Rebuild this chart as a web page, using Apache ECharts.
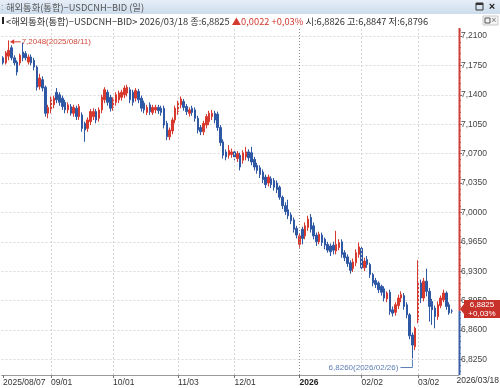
<!DOCTYPE html>
<html><head><meta charset="utf-8">
<script src="https://cdn.jsdelivr.net/npm/echarts@6/dist/echarts.min.js"></script>
<style>html,body{margin:0;padding:0;background:#fff;}#c{width:500px;height:388px;}</style>
</head><body><div id="c"></div>
<script>
// ---------------- data ----------------
const firstDay = '2025/08/07';
const lastDay = '2026/03/18';
const opens = [7.184,7.178,7.186,7.196,7.184,7.179,7.178,7.191,7.189,7.179,7.185,7.181,7.173,7.150,7.158,7.149,7.118,7.122,7.128,7.143,
7.140,7.136,7.131,7.122,7.126,7.118,7.124,7.114,7.116,7.106,7.100,7.108,7.114,7.120,7.112,7.122,7.134,7.143,7.137,7.125,
7.131,7.134,7.137,7.140,7.142,7.146,7.143,7.136,7.144,7.136,7.130,7.119,7.128,7.119,7.122,7.125,7.124,7.124,7.106,7.090,
7.097,7.110,7.120,7.128,7.132,7.126,7.118,7.124,7.122,7.112,7.101,7.096,7.104,7.108,7.114,7.118,7.117,7.101,7.084,7.072,
7.068,7.069,7.072,7.064,7.068,7.062,7.066,7.072,7.071,7.063,7.056,7.053,7.048,7.042,7.035,7.040,7.038,7.035,7.030,7.018,
7.008,7.003,6.997,6.991,6.981,6.962,6.980,6.972,6.982,6.994,6.984,6.973,6.965,6.973,6.968,6.962,6.960,6.961,6.954,6.958,
6.965,6.952,6.947,6.940,6.933,6.940,6.950,6.957,6.934,6.944,6.938,6.926,6.919,6.916,6.912,6.909,6.897,6.905,6.884,6.881,
6.889,6.898,6.901,6.890,6.878,6.854,6.840,6.872,6.916,6.898,6.918,6.906,6.894,6.886,6.876,6.889,6.896,6.904,6.890,6.8826];
const closes = [7.178,7.190,7.193,7.184,7.178,7.167,7.187,7.184,7.184,7.185,7.178,7.173,7.149,7.160,7.148,7.118,7.125,7.134,7.136,7.134,
7.131,7.126,7.122,7.128,7.118,7.125,7.114,7.126,7.100,7.098,7.110,7.120,7.120,7.110,7.122,7.137,7.146,7.131,7.124,7.134,
7.140,7.142,7.143,7.148,7.149,7.134,7.131,7.145,7.134,7.124,7.122,7.125,7.120,7.125,7.125,7.121,7.119,7.104,7.090,7.098,
7.110,7.124,7.130,7.135,7.125,7.120,7.122,7.119,7.112,7.098,7.096,7.106,7.114,7.118,7.118,7.110,7.101,7.083,7.068,7.066,
7.074,7.072,7.066,7.070,7.054,7.071,7.072,7.065,7.060,7.054,7.050,7.045,7.039,7.033,7.042,7.033,7.030,7.027,7.018,7.008,
7.001,6.996,6.990,6.980,6.973,6.972,6.969,6.984,6.992,6.980,6.972,6.965,6.974,6.964,6.961,6.955,6.953,6.955,6.962,6.964,
6.950,6.946,6.939,6.931,6.941,6.952,6.959,6.934,6.942,6.938,6.926,6.916,6.914,6.908,6.905,6.898,6.904,6.882,6.880,6.890,
6.898,6.902,6.888,6.878,6.853,6.842,6.862,6.916,6.898,6.918,6.906,6.888,6.884,6.876,6.890,6.898,6.904,6.888,6.8803,6.8825];
const lows = [7.176,7.176,7.181,7.181,7.175,7.163,7.175,7.180,7.181,7.176,7.175,7.169,7.145,7.146,7.144,7.114,7.112,7.118,7.124,7.130,
7.127,7.122,7.118,7.118,7.115,7.114,7.110,7.110,7.096,7.084,7.096,7.104,7.110,7.106,7.108,7.118,7.130,7.127,7.120,7.121,
7.127,7.130,7.133,7.136,7.138,7.130,7.127,7.132,7.130,7.120,7.118,7.116,7.116,7.116,7.118,7.117,7.115,7.100,7.086,7.086,
7.093,7.106,7.116,7.124,7.121,7.116,7.114,7.115,7.108,7.094,7.092,7.092,7.100,7.104,7.110,7.106,7.097,7.079,7.064,7.062,
7.064,7.065,7.062,7.060,7.050,7.058,7.062,7.061,7.056,7.050,7.046,7.041,7.035,7.029,7.031,7.029,7.026,7.023,7.015,7.004,
6.997,6.992,6.986,6.976,6.969,6.958,6.962,6.968,6.978,6.976,6.968,6.960,6.962,6.960,6.956,6.952,6.948,6.950,6.950,6.955,
6.946,6.942,6.935,6.927,6.929,6.936,6.946,6.930,6.930,6.934,6.922,6.912,6.910,6.904,6.901,6.894,6.893,6.878,6.876,6.877,
6.885,6.893,6.884,6.874,6.849,6.826,6.836,6.868,6.892,6.894,6.900,6.870,6.866,6.862,6.872,6.886,6.893,6.884,6.878,6.8796];
const highs = [7.186,7.192,7.2048,7.199,7.187,7.181,7.189,7.202,7.192,7.188,7.188,7.184,7.175,7.165,7.162,7.151,7.128,7.138,7.139,7.148,
7.143,7.139,7.134,7.131,7.129,7.128,7.127,7.129,7.119,7.108,7.113,7.123,7.124,7.123,7.125,7.140,7.149,7.146,7.140,7.137,
7.143,7.145,7.146,7.151,7.152,7.149,7.146,7.148,7.147,7.139,7.133,7.128,7.131,7.128,7.128,7.128,7.127,7.127,7.109,7.101,
7.113,7.127,7.133,7.138,7.135,7.129,7.125,7.127,7.125,7.115,7.104,7.109,7.117,7.121,7.122,7.121,7.120,7.104,7.087,7.075,
7.080,7.076,7.075,7.073,7.071,7.074,7.078,7.075,7.078,7.066,7.059,7.056,7.051,7.045,7.045,7.043,7.041,7.038,7.032,7.020,
7.012,7.015,7.000,6.994,6.984,6.975,6.983,6.988,6.996,6.998,6.988,6.976,6.977,6.976,6.970,6.965,6.963,6.965,6.978,6.968,
6.968,6.955,6.950,6.943,6.945,6.956,6.964,6.960,6.946,6.948,6.940,6.928,6.922,6.918,6.914,6.912,6.906,6.908,6.888,6.893,
6.902,6.906,6.904,6.893,6.880,6.857,6.864,6.943,6.920,6.922,6.933,6.910,6.897,6.889,6.894,6.901,6.908,6.906,6.893,6.8847];
const yTickValues = [6.8250,6.8600,6.8950,6.9300,6.9650,7.0000,7.0350,7.0700,7.1050,7.1400,7.1750,7.2100];
const monthStarts = ['2025/09/01','2025/10/01','2025/11/03','2025/12/01','2026/01/01','2026/02/02','2026/03/02'];
const monthLabels = ['09/01','10/01','11/03','12/01','2026','02/02','03/02'];
const highIndex = 2, lowIndex = 145;
const titleText = '해외통화(통합)−USDCNH−BID (일)';
const instrument = '<해외통화(통합)−USDCNH−BID>';

// ---------------- categories (trading weekdays) ----------------
function pad(n){return n<10?'0'+n:''+n;}
const cats = [];
(function(){
  const p = firstDay.split('/').map(Number), q = lastDay.split('/').map(Number);
  let d = new Date(Date.UTC(p[0],p[1]-1,p[2]));
  const e = new Date(Date.UTC(q[0],q[1]-1,q[2]));
  while (d <= e) {
    const w = d.getUTCDay();
    if (w !== 0 && w !== 6) cats.push(d.getUTCFullYear()+'/'+pad(d.getUTCMonth()+1)+'/'+pad(d.getUTCDate()));
    d = new Date(d.getTime()+86400000);
  }
})();
const axisCats = cats.concat(['', '']);
const labelOf = {};
monthStarts.forEach((d,k)=>{labelOf[d]=monthLabels[k];});

// ---------------- fonts ----------------
function hasFont(name){
  const ctx=document.createElement('canvas').getContext('2d');
  const s='0123456789,/()abcdefABCDEF';
  ctx.font='32px monospace'; const w1=ctx.measureText(s).width;
  ctx.font='32px "'+name+'", monospace'; const w2=ctx.measureText(s).width;
  return Math.abs(w1-w2)>0.5;
}
const NARROW = hasFont('Liberation Sans Narrow');
const NUMF = NARROW ? '"Liberation Sans Narrow"' : '"Liberation Sans"';
const NUMS = NARROW ? 10 : 8.5;
const HDRF = NARROW ? '10.5px "Liberation Sans Narrow", "Noto Sans CJK KR"' : '9.3px "Noto Sans CJK KR"';
const fmt4 = v => Number(v).toFixed(4).replace('.', ',');

const RED = '#d8392f', BLUE = '#2f58a4';
const Y_MAX = 7.2195, Y_MIN = 6.8064;
const minorTicks = [];
for (let k=0;k<yTickValues.length;k++){ for(let m=-4;m<=4;m++){ const v=+(yTickValues[k]+m*0.007).toFixed(4); if(v>Y_MIN&&v<Y_MAX&&minorTicks.indexOf(v)<0) minorTicks.push(v);} }

const chart = echarts.init(document.getElementById('c'), null, {renderer:'canvas'});
const option = {
  animation:false,
  backgroundColor:'#ffffff',
  grid:{left:0,right:41,top:28,bottom:13},
  xAxis:{
    type:'category', data:axisCats, boundaryGap:true,
    axisLine:{show:true,lineStyle:{color:'#9a9a9a',width:1}},
    axisTick:{show:true,alignWithLabel:true,length:3,interval:(i,v)=>i===0||labelOf[v]!==undefined,lineStyle:{color:'#777'}},
    axisLabel:{show:true,interval:(i,v)=>i===0||labelOf[v]!==undefined,
      formatter:(v,i)=> i===0 ? v : (labelOf[v]==='2026' ? '{b|2026}' : labelOf[v]),
      align:'left', margin:3, color:'#333', fontFamily:NUMF, fontSize:NUMS,
      rich:{b:{fontWeight:'bold',fontFamily:NUMF,fontSize:NUMS,color:'#222'}}},
    splitLine:{show:false}
  },
  yAxis:[{
    type:'value', position:'right', min:Y_MIN, max:Y_MAX,
    axisLine:{show:false},
    axisTick:{show:true, customValues:yTickValues, length:3, lineStyle:{color:'#666'}},
    axisLabel:{show:true, customValues:yTickValues, formatter:fmt4, margin:2, color:'#444', fontFamily:NUMF, fontSize:NUMS},
    splitLine:{show:true, lineStyle:{color:'#dadada', type:[2,2], width:1}}
  },{
    type:'value', position:'right', min:Y_MIN, max:Y_MAX,
    axisLine:{show:false},
    axisTick:{show:true, customValues:minorTicks, length:2, lineStyle:{color:'#888'}},
    axisLabel:{show:false}, splitLine:{show:false}
  }],
  series:[{
    type:'candlestick', yAxisIndex:0,
    data: cats.map((c,i)=>[opens[i],closes[i],lows[i],highs[i]]),
    barWidth:2,
    itemStyle:{color:RED,color0:BLUE,borderColor:RED,borderColor0:BLUE,borderWidth:1},
    markLine:{silent:true,symbol:['none','none'],label:{show:false},animation:false,
      data: monthStarts.map(d=>({xAxis:d, lineStyle: d==='2026/01/01' ? {color:'#8c8c8c',type:[1,2],width:1} : {color:'#d6d6d6',type:[2,2],width:1}}))}
  }]
};
chart.setOption(option);

// ---------------- overlays computed from the chart's scales ----------------
const n = cats.length;
const lastC = closes[n-1], prevC = closes[n-2];
const chg = lastC - prevC, pct = chg/prevC*100;
const chgTxt = (chg>=0?'▲':'▼') + fmt4(Math.abs(chg));
const pctTxt = (pct>=0?'+':'') + pct.toFixed(2).replace('.', ',') + '%';
const gridRight = 500 - 41, gridBottom = 388 - 13;
const yLast = chart.convertToPixel({yAxisIndex:0}, lastC);
const ph = chart.convertToPixel({gridIndex:0}, [highIndex, highs[highIndex]]);
const pl = chart.convertToPixel({gridIndex:0}, [lowIndex, lows[lowIndex]]);
const hiTxt = fmt4(highs[highIndex]) + '(' + cats[highIndex] + ')';
const loTxt = fmt4(lows[lowIndex]) + '(' + cats[lowIndex] + ')';
const annF = NARROW ? 9.5 : 8;

const g = [
  // header row 1
  {type:'rect', shape:{x:0,y:0,width:500,height:14}, style:{fill:new echarts.graphic.LinearGradient(0,0,0,1,[{offset:0,color:'#e6eef8'},{offset:1,color:'#cddcec'}])}, z:100},
  {type:'text', x:1, y:3, style:{text:':', fill:'#8899aa', font:'9px sans-serif'}, z:101},
  {type:'text', x:6, y:7, style:{text:titleText, fill:'#555', font:HDRF, verticalAlign:'middle'}, z:101},
  {type:'rect', shape:{x:476,y:3,width:7,height:7}, style:{fill:'none', stroke:'#333', lineWidth:1}, z:101},
  {type:'rect', shape:{x:476,y:3,width:7,height:2}, style:{fill:'#333'}, z:101},
  {type:'text', x:492, y:7, style:{text:'×', fill:'#222', font:'bold 11px sans-serif', align:'center', verticalAlign:'middle'}, z:101},
  // header row 2
  {type:'rect', shape:{x:0,y:14,width:500,height:14}, style:{fill:'#ffffff'}, z:100},
  {type:'rect', shape:{x:2,y:17,width:2,height:7}, style:{fill:'#222'}, z:101},
  {type:'text', x:6, y:21, z:101, style:{
    text:'{a|'+instrument+' '+cats[n-1]+' 종:'+fmt4(lastC)+' }{r|'+chgTxt+' '+pctTxt+'}{a| 시:'+fmt4(opens[n-1])+' 고:'+fmt4(highs[n-1])+' 저:'+fmt4(lows[n-1])+'}',
    verticalAlign:'middle',
    rich:{a:{fill:'#333',font:HDRF},r:{fill:'#d23a30',font:HDRF}}}},
  {type:'rect', shape:{x:483,y:16,width:15,height:9}, style:{fill:'#f4f4f4', stroke:'#c9c9c9', lineWidth:1}, z:101},
  {type:'rect', shape:{x:485,y:18,width:5,height:5}, style:{fill:'none', stroke:'#555', lineWidth:1}, z:102},
  {type:'text', x:494, y:21, style:{text:'×', fill:'#777', font:'9px sans-serif', align:'center', verticalAlign:'middle'}, z:102},
  // y axis line: red above current price, blue below
  {type:'line', shape:{x1:gridRight+0.5,y1:14,x2:gridRight+0.5,y2:yLast}, style:{stroke:'#cf3f3a',lineWidth:2}, z:90},
  {type:'line', shape:{x1:gridRight+0.5,y1:yLast,x2:gridRight+0.5,y2:gridBottom}, style:{stroke:'#3a5fa8',lineWidth:2}, z:90},
  // current price tag
  {type:'polygon', shape:{points:[[gridRight+1,yLast-2],[gridRight+5,yLast-7],[gridRight+5,yLast-11],[500,yLast-11],[500,yLast+7],[gridRight+5,yLast+7],[gridRight+5,yLast+3]]}, style:{fill:'#c8302a'}, z:95},
  {type:'text', x:482, y:yLast-2, style:{text:fmt4(lastC)+'\n'+pctTxt, fill:'#fff', font:(NARROW?'9.5px ':'8px ')+NUMF, align:'center', verticalAlign:'middle', lineHeight:9}, z:96},
  // high annotation
  {type:'line', shape:{x1:ph[0]+2,y1:ph[1]+1.5,x2:ph[0]+12,y2:ph[1]+1.5}, style:{stroke:'#d8392f',lineWidth:1}, z:50},
  {type:'polygon', shape:{points:[[ph[0]+1.5,ph[1]+1.5],[ph[0]+5.5,ph[1]-1],[ph[0]+5.5,ph[1]+4]]}, style:{fill:'#d8392f'}, z:50},
  {type:'text', x:ph[0]+13, y:ph[1]+1.5, style:{text:hiTxt, fill:'#d04a3c', font:annF+'px '+NUMF, verticalAlign:'middle'}, z:50},
  // low annotation
  {type:'polyline', shape:{points:[[pl[0],pl[1]+1],[pl[0],pl[1]+9],[pl[0]-12,pl[1]+9]]}, style:{stroke:'#5b7db5',lineWidth:1,fill:'none'}, z:50},
  {type:'text', x:pl[0]-14, y:pl[1]+9, style:{text:loTxt, fill:'#5b7db5', font:annF+'px '+NUMF, align:'right', verticalAlign:'middle'}, z:50},
  // last date label under the value axis
  {type:'text', x:499, y:gridBottom+6, style:{text:cats[n-1], fill:'#333', font:NUMS+'px '+NUMF, align:'right', verticalAlign:'middle'}, z:50}
];
chart.setOption({graphic:g});
</script>
</body></html>
